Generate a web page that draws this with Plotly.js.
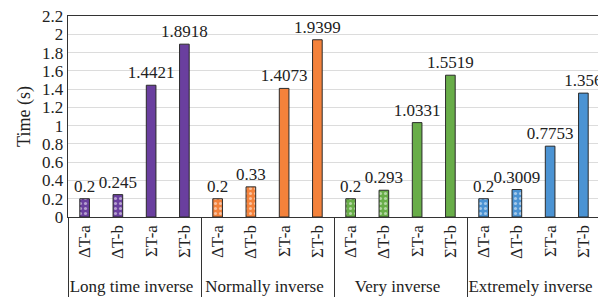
<!DOCTYPE html>
<html>
<head>
<meta charset="utf-8">
<script src="https://cdn.plot.ly/plotly-3.0.1.min.js"></script>
<style>html,body{margin:0;padding:0;overflow:hidden;background:#fff;}</style>
</head>
<body>
<div id="chart"></div>
<script>
const groups = ["Long time inverse", "Normally inverse", "Very inverse", "Extremely inverse"];
const subcats = ["ΔT-a", "ΔT-b", "ΣT-a", "ΣT-b"];
const longTime = [0.2, 0.245, 1.4421, 1.8918];
const normally = [0.2, 0.33, 1.4073, 1.9399];
const very = [0.2, 0.293, 1.0331, 1.5519];
const extremely = [0.2, 0.3009, 0.7753, 1.356];
const labelsLong = ["0.2", "0.245", "1.4421", "1.8918"];
const labelsNormally = ["0.2", "0.33", "1.4073", "1.9399"];
const labelsVery = ["0.2", "0.293", "1.0331", "1.5519"];
const labelsExtremely = ["0.2", "0.3009", "0.7753", "1.356"];
const groupColors = ["#6a3f9f", "#f4823b", "#68ad48", "#4b93d3"];
const yTicks = [0, 0.2, 0.4, 0.6, 0.8, 1, 1.2, 1.4, 1.6, 1.8, 2, 2.2];

const seriesValues = [longTime, normally, very, extremely];
const seriesLabels = [labelsLong, labelsNormally, labelsVery, labelsExtremely];
const font = "Liberation Serif, Times New Roman, serif";
const tf = {family: font, size: 17, color: "#222"};

const traces = groups.map((g, gi) => ({
  type: "bar",
  x: [subcats.map(() => g), subcats],
  y: seriesValues[gi],
  text: seriesLabels[gi],
  textposition: "outside",
  constraintext: "none",
  textangle: 0,
  cliponaxis: false,
  textfont: tf,
  outsidetextfont: tf,
  width: 0.29,
  marker: {
    color: groupColors[gi],
    line: {color: "#2a2a2a", width: 1},
    pattern: {
      shape: subcats.map(s => s.startsWith("Δ") ? "." : ""),
      fgcolor: "#ffffff",
      bgcolor: groupColors[gi],
      size: 5,
      solidity: 0.3,
      fillmode: "overlay"
    }
  },
  hoverinfo: "skip",
  showlegend: false
}));

const layout = {
  width: 600,
  height: 304,
  margin: {l: 68, r: 0, t: 16, b: 87},
  paper_bgcolor: "#fff",
  plot_bgcolor: "#fff",
  barmode: "overlay",
  font: {family: font, size: 17, color: "#222"},
  xaxis: {
    type: "multicategory",
    tickangle: -90,
    showline: true,
    linecolor: "#333",
    linewidth: 1.3,
    mirror: true,
    showdividers: true,
    dividercolor: "#333",
    dividerwidth: 1,
    ticks: "",
    tickfont: tf,
    showgrid: false
  },
  yaxis: {
    range: [0, 2.2],
    tickvals: yTicks,
    ticktext: yTicks.map(v => String(v)),
    showline: true,
    linecolor: "#333",
    linewidth: 1.3,
    gridcolor: "#dcdcdc",
    gridwidth: 1,
    zeroline: false,
    ticks: "",
    tickfont: tf,
    title: {text: "Time (s)", font: {family: font, size: 18, color: "#222"}, standoff: 6}
  }
};

Plotly.newPlot("chart", traces, layout, {staticPlot: true, displayModeBar: false});
</script>
</body>
</html>
